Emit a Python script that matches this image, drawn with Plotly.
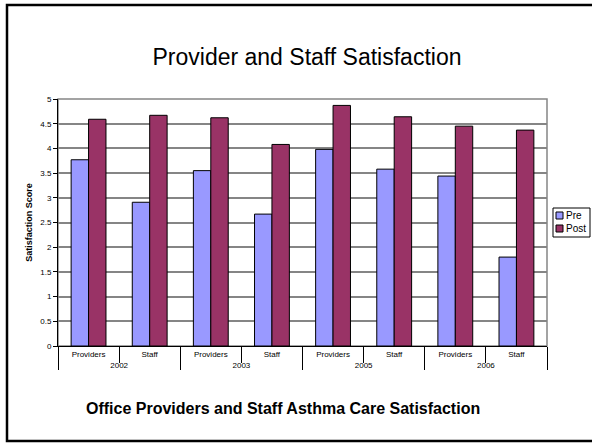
import plotly.graph_objects as go

# Survey years and respondent groups (two-level category axis)
years = ["2002", "2002", "2003", "2003", "2005", "2005", "2006", "2006"]
groups = ["Providers", "Staff"] * 4

# Mean satisfaction scores before and after the intervention
pre_scores = [3.77, 2.91, 3.55, 2.67, 3.98, 3.58, 3.44, 1.80]
post_scores = [4.59, 4.67, 4.62, 4.08, 4.87, 4.64, 4.45, 4.37]

series_names = ["Pre", "Post"]
series_colors = ["#9999FF", "#993366"]

W, H = 592, 447
L, R, T, B = 58, 45, 99, 101
pw, ph = W - L - R, H - T - B


def px_x(x):
    return (x - L) / pw


def px_y(y):
    return (H - B - y) / ph


fig = go.Figure()
for name, color, vals in zip(series_names, series_colors, [pre_scores, post_scores]):
    fig.add_trace(go.Bar(
        x=[years, groups], y=vals, name=name,
        marker=dict(color=color, line=dict(color="#000000", width=1)),
    ))

font = "Liberation Sans, Arial, sans-serif"

fig.update_layout(
    width=W, height=H,
    margin=dict(l=L, r=R, t=T, b=B, autoexpand=False),
    paper_bgcolor="white", plot_bgcolor="white",
    barmode="group", bargap=0.43, bargroupgap=0,
    font=dict(family=font, color="#000000"),
    title=dict(
        text="Provider and Staff Satisfaction",
        x=307 / W, xanchor="center", y=1 - 57 / H, yanchor="middle",
        font=dict(size=23, family=font, color="#000000"),
    ),
    showlegend=False,
)

fig.update_yaxes(
    range=[0, 5], dtick=0.5, showgrid=True, gridcolor="#858585", gridwidth=1.5,
    showline=True, linecolor="#000000", linewidth=1,
    ticks="outside", ticklen=4, tickcolor="#000000",
    tickfont=dict(size=8, family=font),
    title=dict(text="<b>Satisfaction Score</b>", font=dict(size=9, family=font), standoff=6),
    zeroline=False,
)
fig.update_xaxes(
    type="multicategory",
    showline=True, linecolor="#000000", linewidth=1,
    ticks="outside", tickson="boundaries", ticklen=16, tickcolor="#000000",
    showdividers=True, dividercolor="#000000", dividerwidth=1,
    tickfont=dict(size=8, family=font),
    showgrid=False,
)

# Plot-area outline (gray) and the outer slide frame
fig.add_shape(type="rect", xref="paper", yref="paper", x0=0, x1=1, y0=0, y1=1,
              line=dict(color="#858585", width=1.5), layer="below")
fig.add_shape(type="rect", xref="paper", yref="paper",
              x0=px_x(7), x1=px_x(610), y0=px_y(441), y1=px_y(5),
              line=dict(color="#000000", width=2.5))

# Compact legend box beside the plot
fig.add_shape(type="rect", xref="paper", yref="paper",
              x0=px_x(553), x1=px_x(590), y0=px_y(237), y1=px_y(208),
              line=dict(color="#000000", width=1), fillcolor="white")
for i, (name, color) in enumerate(zip(series_names, series_colors)):
    yc = 215.5 + i * 13
    fig.add_shape(type="rect", xref="paper", yref="paper",
                  x0=px_x(556), x1=px_x(563), y0=px_y(yc + 3.5), y1=px_y(yc - 3.5),
                  line=dict(color="#000000", width=1), fillcolor=color)
    fig.add_annotation(text=name, xref="paper", yref="paper",
                       x=px_x(564), y=px_y(yc), xanchor="left", yanchor="middle",
                       showarrow=False, font=dict(size=10, family=font, color="#000000"))

fig.add_annotation(
    text="<b>Office Providers and Staff Asthma Care Satisfaction</b>",
    xref="paper", yref="paper", x=px_x(283), y=px_y(408),
    xanchor="center", yanchor="middle", showarrow=False,
    font=dict(size=16, family=font, color="#000000"),
)

fig.write_html("out.html")
